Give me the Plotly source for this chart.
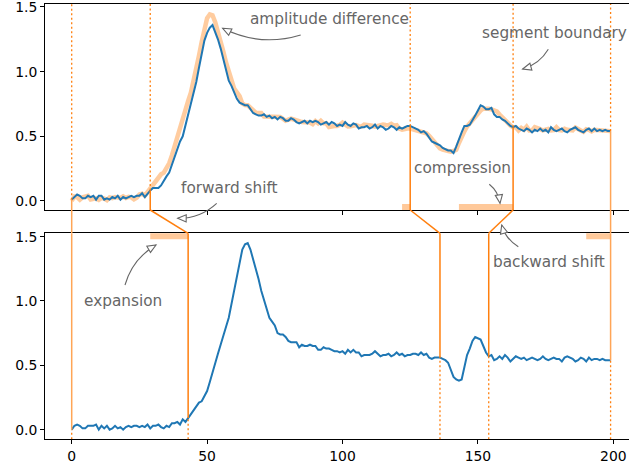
import numpy as np
import plotly.graph_objects as go

# ---------------- data ----------------
t = list(range(200))

top_series = [
    0.01, 0.03, 0.05, 0.04, 0.02, 0.02, 0.04, 0.03, 0.04, 0.01,
    0.04, 0.04, 0.01, 0.02, 0.01, 0.03, 0.02, 0.04, 0.01, 0.03,
    0.02, 0.03, 0.04, 0.03, 0.04, 0.04, 0.06, 0.03, 0.06, 0.08,
    0.10, 0.10, 0.10, 0.12, 0.16, 0.19, 0.22, 0.28, 0.34, 0.39,
    0.46, 0.50, 0.58, 0.66, 0.74, 0.84, 0.92, 1.03, 1.13, 1.24,
    1.30, 1.34, 1.36, 1.31, 1.25, 1.18, 1.10, 1.00, 0.93, 0.89,
    0.84, 0.79, 0.76, 0.75, 0.74, 0.74, 0.71, 0.68, 0.67, 0.66,
    0.66, 0.67, 0.65, 0.66, 0.64, 0.65, 0.63, 0.65, 0.64, 0.62,
    0.62, 0.64, 0.63, 0.61, 0.60, 0.61, 0.62, 0.60, 0.62, 0.61,
    0.62, 0.61, 0.59, 0.60, 0.61, 0.59, 0.61, 0.60, 0.58, 0.59,
    0.58, 0.61, 0.59, 0.58, 0.60, 0.59, 0.56, 0.57, 0.57, 0.58,
    0.56, 0.57, 0.59, 0.56, 0.58, 0.57, 0.55, 0.56, 0.58, 0.57,
    0.55, 0.57, 0.56, 0.57, 0.58, 0.58, 0.57, 0.56, 0.55, 0.53,
    0.54, 0.52, 0.49, 0.46, 0.45, 0.44, 0.43, 0.41, 0.40, 0.39,
    0.39, 0.37, 0.42, 0.48, 0.53, 0.58, 0.58, 0.59, 0.62, 0.66,
    0.70, 0.74, 0.73, 0.71, 0.71, 0.72, 0.67, 0.65, 0.65, 0.63,
    0.62, 0.60, 0.58, 0.57, 0.58, 0.56, 0.55, 0.54, 0.56, 0.55,
    0.53, 0.55, 0.54, 0.56, 0.54, 0.55, 0.53, 0.57, 0.55, 0.54,
    0.55, 0.56, 0.54, 0.53, 0.55, 0.56, 0.57, 0.55, 0.54, 0.53,
    0.55, 0.56, 0.54, 0.56, 0.54, 0.55, 0.54, 0.55, 0.54, 0.54,
]

bottom_series = [
    0.00, 0.03, 0.04, 0.03, 0.01, 0.01, 0.03, 0.03, 0.03, 0.04,
    0.00, 0.03, 0.01, 0.03, 0.00, 0.01, 0.03, 0.01, 0.02, 0.00,
    0.02, 0.03, 0.02, 0.03, 0.03, 0.02, 0.03, 0.02, 0.04, 0.01,
    0.03, 0.03, 0.04, 0.02, 0.01, 0.03, 0.02, 0.05, 0.05, 0.06,
    0.04, 0.08, 0.06, 0.09, 0.12, 0.15, 0.18, 0.21, 0.22, 0.26,
    0.30, 0.37, 0.45, 0.52, 0.59, 0.66, 0.74, 0.80, 0.87, 0.98,
    1.08, 1.18, 1.30, 1.40, 1.44, 1.45, 1.40, 1.33, 1.25, 1.17,
    1.08, 1.01, 0.95, 0.87, 0.84, 0.81, 0.75, 0.74, 0.74, 0.72,
    0.69, 0.68, 0.68, 0.68, 0.64, 0.66, 0.65, 0.65, 0.66, 0.65,
    0.65, 0.62, 0.62, 0.64, 0.63, 0.63, 0.62, 0.61, 0.61, 0.60,
    0.61, 0.59, 0.62, 0.60, 0.62, 0.60, 0.60, 0.57, 0.58, 0.58,
    0.58, 0.59, 0.61, 0.59, 0.57, 0.58, 0.58, 0.59, 0.57, 0.58,
    0.60, 0.58, 0.59, 0.57, 0.58, 0.58, 0.59, 0.59, 0.58, 0.60,
    0.58, 0.59, 0.56, 0.55, 0.56, 0.56, 0.56, 0.55, 0.54, 0.52,
    0.47, 0.41, 0.39, 0.38, 0.39, 0.50, 0.58, 0.63, 0.69, 0.72,
    0.71, 0.70, 0.65, 0.60, 0.57, 0.58, 0.54, 0.55, 0.57, 0.55,
    0.58, 0.56, 0.53, 0.55, 0.57, 0.56, 0.55, 0.56, 0.54, 0.55,
    0.56, 0.55, 0.54, 0.55, 0.57, 0.55, 0.54, 0.55, 0.56, 0.55,
    0.55, 0.53, 0.56, 0.57, 0.56, 0.55, 0.53, 0.54, 0.56, 0.55,
    0.53, 0.56, 0.54, 0.55, 0.55, 0.54, 0.55, 0.54, 0.54, 0.54,
]

top_bounds = [0, 29, 125, 163, 199]
bottom_bounds = [0, 43, 136, 154, 199]

x_ticks = [0, 50, 100, 150, 200]
y_ticks = [0.0, 0.5, 1.0, 1.5]

annotation_texts = ["amplitude difference", "segment boundary", "forward shift",
                    "compression", "expansion", "backward shift"]

# ---------------- layout constants ----------------
W, H = 629, 468
BLUE = "#1f77b4"
ORANGE = "#ff7f0e"
ORANGE_END = "#ffa556"
ORANGE_FILL = "rgba(255,127,14,0.42)"
ORANGE_BAND = "rgba(255,127,14,0.40)"
GRAY = "#666666"
FONT = "DejaVu Sans"

xr = [-9.86, 205.8]
yr_top = [-0.07, 1.523]
yr_bot = [-0.075, 1.526]
x_dom = [45 / W, 1.0]
top_dom = [1 - 210 / H, 1 - 4 / H]
bot_dom = [1 - 439.3 / H, 1 - 233.3 / H]


def P(px, py):
    return px / W, 1 - py / H


# warped bottom series shown in top coordinates (alignment through the segment boundaries)
tt = np.array(t, dtype=float)
mapped = np.interp(tt, top_bounds, bottom_bounds)
warped = np.interp(mapped, t, bottom_series)

fig = go.Figure()

fig.add_trace(go.Scatter(x=t, y=warped, mode="lines", xaxis="x", yaxis="y",
                         line=dict(color=ORANGE_BAND, width=4.5), hoverinfo="skip"))
fig.add_trace(go.Scatter(x=t, y=top_series, mode="lines", xaxis="x", yaxis="y",
                         line=dict(color=BLUE, width=2)))
fig.add_trace(go.Scatter(x=t, y=bottom_series, mode="lines", xaxis="x2", yaxis="y2",
                         line=dict(color=BLUE, width=2)))

# length-difference bars
for k in range(len(top_bounds) - 1):
    lt = top_bounds[k + 1] - top_bounds[k]
    lb = bottom_bounds[k + 1] - bottom_bounds[k]
    if lt > lb:
        end = top_bounds[k + 1]
        fig.add_trace(go.Scatter(x=[end - (lt - lb), end], y=[yr_top[0]] * 2, mode="lines",
                                 xaxis="x", yaxis="y",
                                 line=dict(color=ORANGE_FILL, width=12)))
    elif lb > lt:
        end = bottom_bounds[k + 1]
        fig.add_trace(go.Scatter(x=[end - (lb - lt), end], y=[yr_bot[1]] * 2, mode="lines",
                                 xaxis="x2", yaxis="y2",
                                 line=dict(color=ORANGE_FILL, width=12)))

shapes = []
DOT = "2px,2.5px"
n = len(top_bounds)
for k, (tb, bb) in enumerate(zip(top_bounds, bottom_bounds)):
    vt = top_series[tb]
    vb = bottom_series[bb]
    c = ORANGE_END if k in (0, n - 1) else ORANGE
    shapes.append(dict(type="line", xref="x", yref="y", x0=tb, x1=tb, y0=vt, y1=yr_top[1],
                       line=dict(color=ORANGE, width=1.3, dash=DOT)))
    shapes.append(dict(type="line", xref="x", yref="y", x0=tb, x1=tb, y0=yr_top[0], y1=vt,
                       line=dict(color=c, width=1.5)))
    shapes.append(dict(type="line", xref="x", yref="paper", x0=tb, x1=bb,
                       y0=top_dom[0], y1=bot_dom[1], line=dict(color=c, width=1.5)))
    shapes.append(dict(type="line", xref="x2", yref="y2", x0=bb, x1=bb, y0=vb, y1=yr_bot[1],
                       line=dict(color=c, width=1.5)))
    shapes.append(dict(type="line", xref="x2", yref="y2", x0=bb, x1=bb, y0=yr_bot[0], y1=vb,
                       line=dict(color=ORANGE, width=1.3, dash=DOT)))

# annotations: text centers and curved arrows (pixel positions)
text_pos = [(329, 19.5), (554.7, 33), (229, 187.7), (462.8, 168.3), (123, 300.7), (549.3, 261.7)]
arrows = [((300.7, 35), (222.7, 28.3)), ((548.3, 49.3), (522.7, 69)),
          ((216.7, 203.3), (177.7, 218.3)), ((489.3, 184.3), (500, 203.3)),
          ((125, 285), (156, 245)), ((518.3, 246.7), (501.7, 225))]

annotations = []
for txt, (px, py) in zip(annotation_texts, text_pos):
    x, y = P(px, py)
    annotations.append(dict(text=txt, x=x, y=y, xref="paper", yref="paper", showarrow=False,
                            xanchor="center", yanchor="middle",
                            font=dict(family=FONT, size=15.3, color=GRAY)))

rad = 0.2
for (x0, y0), (x1, y1) in arrows:
    dx, dy = x1 - x0, y1 - y0
    mx, my = (x0 + x1) / 2, (y0 + y1) / 2
    cx, cy = mx - rad * (-dy), my - rad * dx
    a0, a1, ac = P(x0, y0), P(x1, y1), P(cx, cy)
    shapes.append(dict(type="path", xref="paper", yref="paper",
                       path=f"M {a0[0]},{a0[1]} Q {ac[0]},{ac[1]} {a1[0]},{a1[1]}",
                       line=dict(color=GRAY, width=1.1)))
    # arrow head
    ux, uy = x1 - cx, y1 - cy
    L = (ux ** 2 + uy ** 2) ** 0.5
    ux, uy = ux / L, uy / L
    hl, hw = 8.5, 3.6
    bx, by = x1 - hl * ux, y1 - hl * uy
    p1 = P(bx - hw * uy, by + hw * ux)
    p2 = P(bx + hw * uy, by - hw * ux)
    shapes.append(dict(type="path", xref="paper", yref="paper",
                       path=f"M {a1[0]},{a1[1]} L {p1[0]},{p1[1]} L {p2[0]},{p2[1]} Z",
                       line=dict(color=GRAY, width=1.1), fillcolor="white"))

axis_common = dict(showgrid=False, zeroline=False, showline=True, linecolor="black",
                   linewidth=1, ticks="outside", ticklen=4, tickwidth=1, tickcolor="black",
                   automargin=False, ticklabeloverflow="allow",
                   tickfont=dict(family=FONT, size=13.9, color="black"))

fig.update_layout(
    width=W, height=H, margin=dict(l=0, r=0, t=0, b=0),
    paper_bgcolor="white", plot_bgcolor="white", showlegend=False,
    template="none",
    font=dict(family=FONT),
    xaxis=dict(domain=x_dom, range=xr, anchor="y", mirror=True, tickvals=x_ticks,
               showticklabels=False, **axis_common),
    yaxis=dict(domain=top_dom, range=yr_top, anchor="x", tickvals=y_ticks,
               tickformat=".1f", **axis_common),
    xaxis2=dict(domain=x_dom, range=xr, anchor="y2", mirror=True, tickvals=x_ticks,
                **axis_common),
    yaxis2=dict(domain=bot_dom, range=yr_bot, anchor="x2", tickvals=y_ticks,
                tickformat=".1f", **axis_common),
    shapes=shapes,
    annotations=annotations,
)

fig.write_html("out.html")
